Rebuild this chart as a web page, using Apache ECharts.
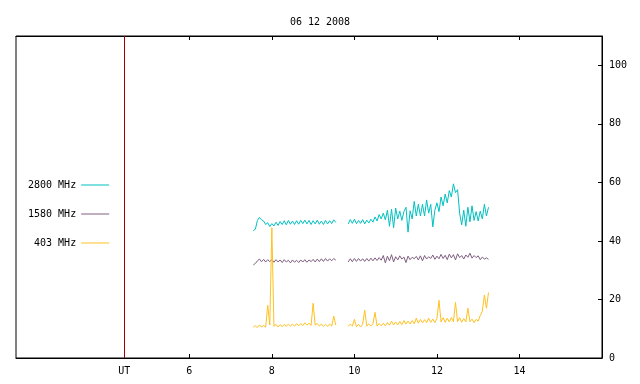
<!DOCTYPE html>
<html>
<head>
<meta charset="utf-8">
<script src="https://cdn.jsdelivr.net/npm/echarts@6/dist/echarts.min.js"></script>
<style>
  html, body { margin: 0; padding: 0; background: #fff; }
  #chart { width: 640px; height: 384px; }
</style>
</head>
<body>
<div id="chart"></div>
<script>
// UT hours of the two observing runs (gap around 9.7 h)
const hoursAM = [7.55,7.60,7.65,7.70,7.75,7.80,7.85,7.90,7.95,8.00,8.05,8.10,8.15,8.20,8.25,8.30,8.35,8.40,8.45,8.50,
    8.55,8.60,8.65,8.70,8.75,8.80,8.85,8.90,8.95,9.00,9.05,9.10,9.15,9.20,9.25,9.30,9.35,9.40,9.45,9.50,9.55];
const hoursPM = [9.85,9.90,9.95,10.00,10.05,10.10,10.15,10.20,10.25,10.30,10.35,10.40,10.45,10.50,10.55,10.60,10.65,10.70,10.75,10.80,
    10.85,10.90,10.95,11.00,11.05,11.10,11.15,11.20,11.25,11.30,11.35,11.40,11.45,11.50,11.55,11.60,11.65,11.70,11.75,11.80,
    11.85,11.90,11.95,12.00,12.05,12.10,12.15,12.20,12.25,12.30,12.35,12.40,12.45,12.50,12.55,12.60,12.65,12.70,12.75,12.80,
    12.85,12.90,12.95,13.00,13.05,13.10,13.15,13.20,13.25];

const f2800AM = [43.5,44.0,47.0,48.0,47.2,46.8,45.6,46.2,44.9,45.9,45.1,46.4,45.3,46.6,45.6,46.9,45.5,47.0,45.7,46.8,
    45.6,46.9,45.7,47.0,45.9,47.1,45.8,47.0,45.6,46.9,45.8,47.1,45.7,46.8,45.6,47.0,45.8,46.9,45.9,47.2,46.3];
const f2800PM = [45.8,47.3,46.0,47.4,45.9,47.0,46.0,47.3,45.8,47.1,46.1,47.4,46.4,48.2,46.8,49.0,47.5,49.5,47.2,50.5,
    45.0,50.8,44.5,51.2,47.5,50.2,47.0,50.0,51.5,43.0,50.3,47.5,53.5,48.5,52.5,48.5,52.5,48.5,54.0,49.5,
    52.5,44.8,50.5,53.0,50.0,55.0,52.0,56.0,53.0,57.2,55.0,59.5,56.5,57.5,49.5,45.5,50.5,45.0,51.5,46.5,
    52.0,47.0,50.0,46.8,50.2,47.5,52.5,48.5,51.5];

const f1580AM = [31.8,32.3,33.2,33.8,32.9,33.7,32.8,33.6,32.9,33.7,32.7,33.6,32.8,33.5,32.6,33.6,32.8,33.4,32.5,33.5,
    32.7,33.4,32.6,33.5,32.8,33.6,32.7,33.5,32.9,33.7,32.8,33.8,32.9,33.9,33.0,34.0,33.1,33.9,33.2,34.0,33.4];
const f1580PM = [32.8,33.9,32.9,34.0,33.0,34.0,33.1,33.9,33.0,34.0,33.1,34.1,33.2,34.2,33.3,34.3,33.4,35.0,32.5,34.8,
    33.2,35.3,32.8,34.6,33.5,34.9,33.8,34.5,32.6,34.8,33.6,34.4,33.9,34.7,33.5,34.9,33.2,35.0,33.8,34.6,
    34.0,35.2,33.7,34.8,33.9,35.4,34.0,35.1,33.6,35.5,34.2,35.3,33.5,35.6,34.3,35.0,33.8,35.2,34.4,35.8,
    34.1,35.0,34.3,34.9,33.6,34.5,33.8,34.2,33.7];

const f403AM = [10.5,11.0,10.4,11.3,10.6,11.1,10.5,18.0,11.3,44.5,10.8,11.5,10.6,11.4,10.7,11.5,10.8,11.6,10.9,11.5,
    10.9,11.7,11.0,11.8,11.1,12.0,11.2,11.9,11.1,18.7,11.2,11.8,10.9,11.6,10.8,11.5,10.8,11.6,10.9,14.3,11.2];
const f403PM = [10.8,11.6,10.9,13.2,10.7,11.5,10.6,11.5,16.3,10.9,11.6,10.9,11.7,15.6,10.9,11.8,11.0,11.9,11.0,12.1,
    11.2,12.6,11.3,12.3,11.3,12.5,11.4,12.8,11.6,12.6,11.6,12.8,11.7,13.6,11.9,13.2,12.0,13.1,12.1,13.6,
    12.2,13.3,12.1,13.5,19.7,12.3,13.8,12.2,13.6,12.3,13.8,12.4,19.0,12.4,13.8,12.2,13.5,12.3,17.0,12.4,
    13.3,12.1,13.2,12.6,14.5,16.0,21.5,17.0,22.4];

const seriesNames = ['2800 MHz', '1580 MHz', '403 MHz'];
const xTicks = [6, 8, 10, 12, 14];
const yTicks = [0, 20, 40, 60, 80, 100];
const utHour = 4.424;

function joinRuns(am, pm) {
    let out = hoursAM.map((h, i) => [h, am[i]]);
    out.push([9.7, '-']);
    return out.concat(hoursPM.map((h, i) => [h, pm[i]]));
}

let chart = echarts.init(document.getElementById('chart'));
const mono = 'DejaVu Sans Mono';

chart.setOption({
    animation: false,
    textStyle: { fontFamily: mono },
    title: {
        text: '06 12 2008',
        left: 'center',
        top: 12,
        textStyle: { fontFamily: mono, fontSize: 10, fontWeight: 'normal', color: '#000' }
    },
    legend: {
        orient: 'vertical',
        align: 'right',
        left: 23,
        top: 175,
        icon: 'rect',
        itemWidth: 28,
        itemHeight: 1,
        itemGap: 19,
        textStyle: { fontFamily: mono, fontSize: 10, color: '#000' },
        data: seriesNames
    },
    grid: {
        show: true,
        left: 16,
        right: 38,
        top: 36,
        bottom: 26,
        borderColor: '#000',
        borderWidth: 1
    },
    xAxis: [
        {
            type: 'value',
            min: 1.8,
            max: 16,
            position: 'bottom',
            splitLine: { show: false },
            axisLine: { show: true, onZero: false, lineStyle: { color: '#000', width: 1 } },
            axisTick: { inside: true, length: 4, customValues: xTicks, lineStyle: { color: '#000' } },
            axisLabel: {
                customValues: [utHour].concat(xTicks),
                formatter: v => (v < 5 ? 'UT' : String(v)),
                color: '#000',
                fontSize: 10,
                margin: 8
            }
        },
        {
            type: 'value',
            min: 1.8,
            max: 16,
            position: 'top',
            splitLine: { show: false },
            axisLine: { show: true, onZero: false, lineStyle: { color: '#000', width: 1 } },
            axisTick: { inside: true, length: 4, customValues: xTicks, lineStyle: { color: '#000' } },
            axisLabel: { show: false }
        }
    ],
    yAxis: {
        type: 'value',
        position: 'right',
        min: 0,
        max: 110,
        splitLine: { show: false },
        axisLine: { show: true, lineStyle: { color: '#000', width: 1 } },
        axisTick: { inside: true, length: 4, customValues: yTicks, lineStyle: { color: '#000' } },
        axisLabel: {
            customValues: yTicks,
            color: '#000',
            fontSize: 10,
            margin: 7
        }
    },
    series: [
        {
            name: seriesNames[0],
            type: 'line',
            symbol: 'none',
            connectNulls: false,
            color: '#00c0c0',
            lineStyle: { width: 1 },
            data: joinRuns(f2800AM, f2800PM),
            markLine: {
                silent: true,
                symbol: 'none',
                label: { show: false },
                lineStyle: { color: '#a00000', width: 1, type: 'solid' },
                data: [{ xAxis: utHour }]
            }
        },
        {
            name: seriesNames[1],
            type: 'line',
            symbol: 'none',
            connectNulls: false,
            color: '#7f5f7f',
            lineStyle: { width: 1 },
            data: joinRuns(f1580AM, f1580PM)
        },
        {
            name: seriesNames[2],
            type: 'line',
            symbol: 'none',
            connectNulls: false,
            color: '#ffc020',
            lineStyle: { width: 1 },
            data: joinRuns(f403AM, f403PM)
        }
    ]
});
</script>
</body>
</html>
